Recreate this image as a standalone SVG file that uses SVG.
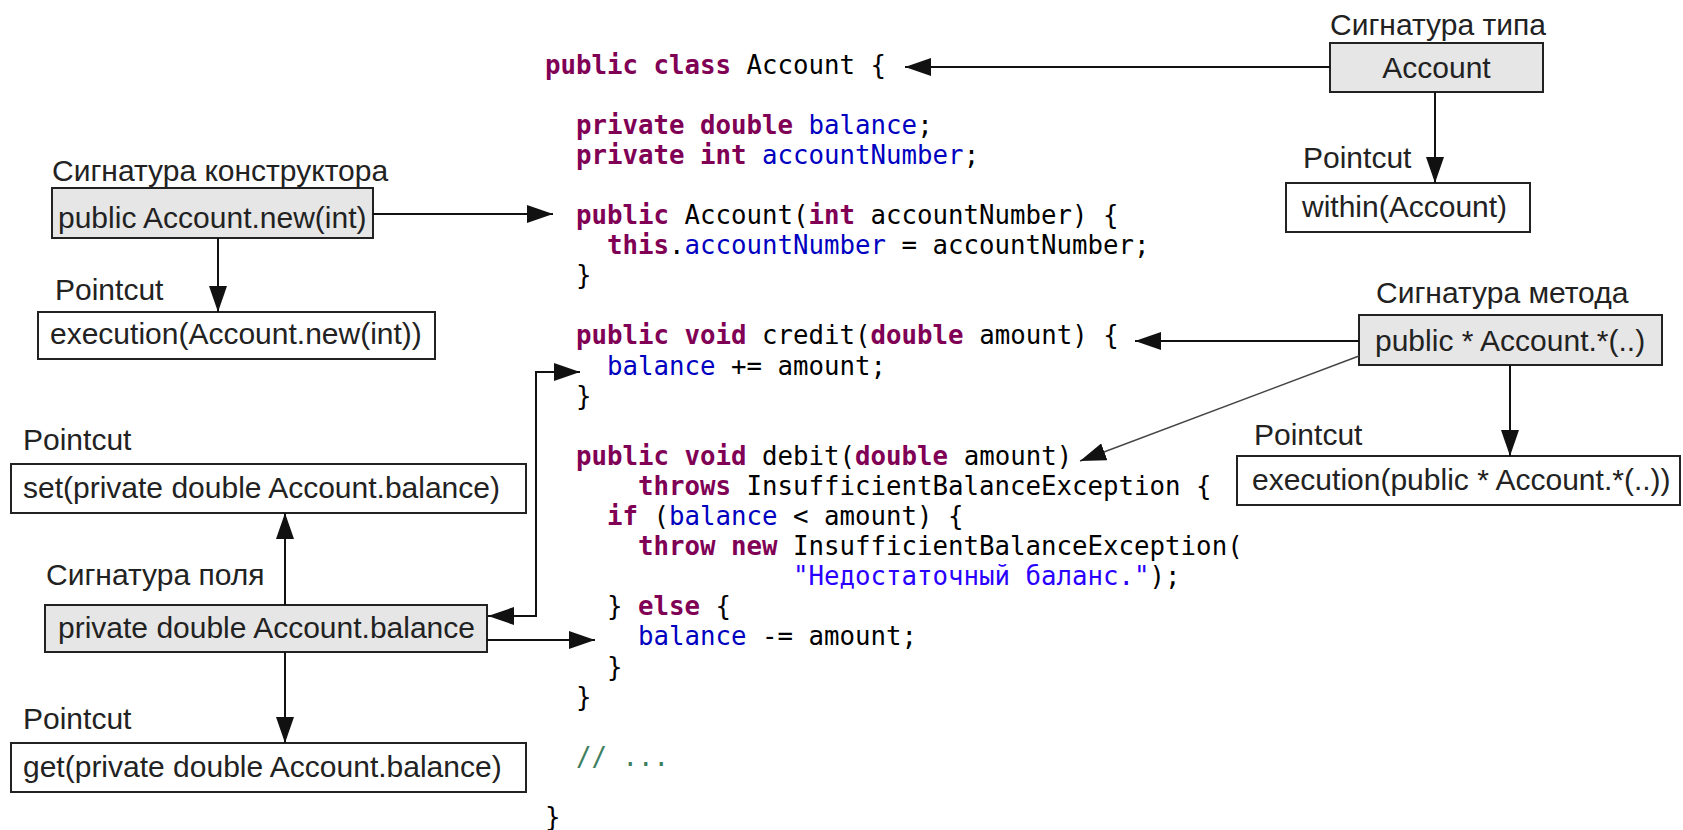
<svg xmlns="http://www.w3.org/2000/svg" width="1683" height="830" viewBox="0 0 1683 830">
  <defs>
    <marker id="arrow" markerUnits="userSpaceOnUse" markerWidth="26" markerHeight="18" refX="26" refY="9" orient="auto-start-reverse">
      <path d="M0,0 L26,9 L0,18 z" fill="#111"/>
    </marker>
    <style>
      .lbl { font-family: "Liberation Sans", Arial, sans-serif; font-size: 30px; fill: #222; }
      .sig { fill: #e6e6e6; stroke: #222; stroke-width: 2; }
      .pc { fill: #ffffff; stroke: #222; stroke-width: 2; }
      .edge { fill: none; stroke: #111; stroke-width: 2; marker-end: url(#arrow); }
      .thin { stroke: #444; stroke-width: 1.5; }
      .code { font-family: "DejaVu Sans Mono", "Liberation Mono", monospace; font-size: 25.75px; fill: #000; }
      .k { font-weight: bold; fill: #7F0055; }
      .f { fill: #0000C0; }
      .s { fill: #2A00FF; }
      .c { fill: #3F7F5F; }
    </style>
  </defs>
  <rect width="1683" height="830" fill="#ffffff"/>

  <!-- Java source of the Account class -->
  <g id="source" class="code">
    <text x="545" y="73.5"><tspan class="k">public</tspan> <tspan class="k">class</tspan> Account {</text>
    <text x="576" y="133.7"><tspan class="k">private</tspan> <tspan class="k">double</tspan> <tspan class="f">balance</tspan>;</text>
    <text x="576" y="163.8"><tspan class="k">private</tspan> <tspan class="k">int</tspan> <tspan class="f">accountNumber</tspan>;</text>
    <text x="576" y="224"><tspan class="k">public</tspan> Account(<tspan class="k">int</tspan> accountNumber) {</text>
    <text x="607" y="254.1"><tspan class="k">this</tspan>.<tspan class="f">accountNumber</tspan> = accountNumber;</text>
    <text x="576" y="284.2">}</text>
    <text x="576" y="344.4"><tspan class="k">public</tspan> <tspan class="k">void</tspan> credit(<tspan class="k">double</tspan> amount) {</text>
    <text x="607" y="374.5"><tspan class="f">balance</tspan> += amount;</text>
    <text x="576" y="404.6">}</text>
    <text x="576" y="464.8"><tspan class="k">public</tspan> <tspan class="k">void</tspan> debit(<tspan class="k">double</tspan> amount)</text>
    <text x="638" y="494.9"><tspan class="k">throws</tspan> InsufficientBalanceException {</text>
    <text x="607" y="525"><tspan class="k">if</tspan> (<tspan class="f">balance</tspan> &lt; amount) {</text>
    <text x="638" y="555.1"><tspan class="k">throw</tspan> <tspan class="k">new</tspan> InsufficientBalanceException(</text>
    <text x="793" y="585.2"><tspan class="s">"Недостаточный баланс."</tspan>);</text>
    <text x="607" y="615.3">} <tspan class="k">else</tspan> {</text>
    <text x="638" y="645.4"><tspan class="f">balance</tspan> -= amount;</text>
    <text x="607" y="675.5">}</text>
    <text x="576" y="705.6">}</text>
    <text x="576" y="765.8" class="c">// ...</text>
    <text x="545" y="826">}</text>
  </g>

  <!-- type signature -->
  <g id="type-sig">
    <text class="lbl" x="1330" y="35">Сигнатура типа</text>
    <rect class="sig" x="1330" y="43" width="213" height="49"/>
    <text class="lbl" x="1436.5" y="78" text-anchor="middle">Account</text>
  </g>
  <g id="type-pointcut">
    <text class="lbl" x="1303" y="168">Pointcut</text>
    <rect class="pc" x="1286" y="183" width="244" height="49"/>
    <text class="lbl" x="1302" y="217">within(Account)</text>
  </g>

  <!-- constructor signature -->
  <g id="ctor-sig">
    <text class="lbl" x="52" y="181">Сигнатура конструктора</text>
    <rect class="sig" x="52" y="188" width="321" height="50"/>
    <text class="lbl" x="58" y="228">public Account.new(int)</text>
  </g>
  <g id="ctor-pointcut">
    <text class="lbl" x="55" y="300">Pointcut</text>
    <rect class="pc" x="38" y="312" width="397" height="47"/>
    <text class="lbl" x="50" y="344">execution(Account.new(int))</text>
  </g>

  <!-- method signature -->
  <g id="method-sig">
    <text class="lbl" x="1376" y="303">Сигнатура метода</text>
    <rect class="sig" x="1359" y="315" width="303" height="50"/>
    <text class="lbl" x="1375" y="351">public * Account.*(..)</text>
  </g>
  <g id="method-pointcut">
    <text class="lbl" x="1254" y="445">Pointcut</text>
    <rect class="pc" x="1237" y="456" width="443" height="49"/>
    <text class="lbl" x="1252" y="490">execution(public * Account.*(..))</text>
  </g>

  <!-- field signature -->
  <g id="set-pointcut">
    <text class="lbl" x="23" y="450">Pointcut</text>
    <rect class="pc" x="11" y="464" width="515" height="49"/>
    <text class="lbl" x="23" y="498">set(private double Account.balance)</text>
  </g>
  <g id="field-sig">
    <text class="lbl" x="46" y="585">Сигнатура поля</text>
    <rect class="sig" x="45" y="605" width="442" height="47"/>
    <text class="lbl" x="58" y="638">private double Account.balance</text>
  </g>
  <g id="get-pointcut">
    <text class="lbl" x="23" y="729">Pointcut</text>
    <rect class="pc" x="11" y="743" width="515" height="49"/>
    <text class="lbl" x="23" y="777">get(private double Account.balance)</text>
  </g>

  <!-- connectors -->
  <g id="connectors">
    <line class="edge" x1="1330" y1="67" x2="905" y2="67"/>
    <line class="edge" x1="1435" y1="92" x2="1435" y2="183"/>
    <line class="edge" x1="373" y1="214" x2="553" y2="214"/>
    <line class="edge" x1="218" y1="238" x2="218" y2="312"/>
    <line class="edge" x1="1359" y1="341" x2="1135" y2="341"/>
    <line class="edge thin" x1="1359" y1="356" x2="1080" y2="461"/>
    <line class="edge" x1="1510" y1="365" x2="1510" y2="456"/>
    <line class="edge" x1="285" y1="605" x2="285" y2="513"/>
    <line class="edge" x1="285" y1="652" x2="285" y2="743"/>
    <path class="edge" d="M488,616 H536 V372 H580" marker-start="url(#arrow)"/>
    <line class="edge" x1="487" y1="640" x2="595" y2="640"/>
  </g>
</svg>
